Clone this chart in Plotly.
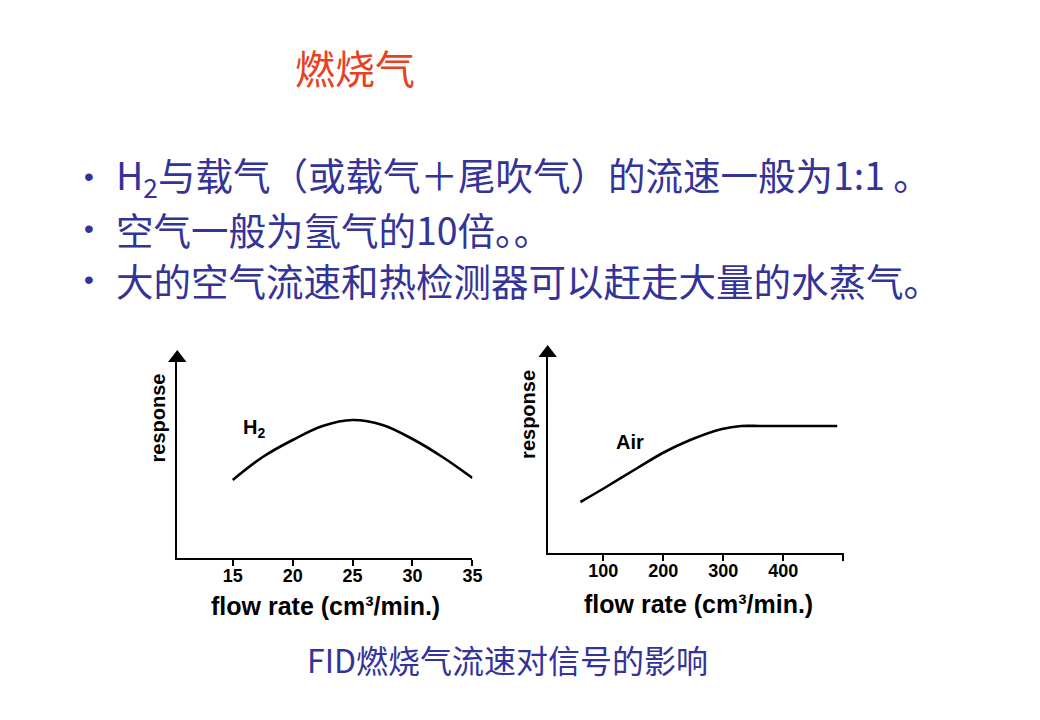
import plotly.graph_objects as go

# ---- data ----
h2_flow = [15, 17.5, 20, 22.5, 25, 27.5, 30, 32.5, 35]
h2_resp = [78, 101, 118, 132, 138, 133, 119, 101, 80]
h2_ticks = [15, 20, 25, 30, 35]
h2_ticklabels = ["15", "20", "25", "30", "35"]

air_flow = [62, 102, 157, 199, 245, 298, 330, 360, 400, 450, 490]
air_resp = [51, 65, 85, 100, 113, 124, 127, 127, 127, 127, 127]
air_ticks = [100, 200, 300, 400, 500]
air_ticklabels = ["100", "200", "300", "400", " "]

title_text = "燃烧气"
bullets = [
    "H<sub>2</sub>与载气（或载气＋尾吹气）的流速一般为1:1 。",
    "空气一般为氢气的10倍。。",
    "大的空气流速和热检测器可以赶走大量的水蒸气。",
]
caption = "FID燃烧气流速对信号的影响"
xlabel = "flow rate (cm³/min.)"
ylabel = "response"

W, H = 1040, 720
CJK = "Noto Sans CJK SC"
BLUE = "#333399"
LAT = "Liberation Sans"

h2_xrange = [10.37, 35]
h2_yrange = [0, 200]
air_xrange = [7.4, 501]
air_yrange = [0, 200]

fig = go.Figure()
fig.add_trace(go.Scatter(x=h2_flow, y=h2_resp, mode="lines",
                         line=dict(color="black", width=2.6, shape="spline", smoothing=1.0),
                         xaxis="x", yaxis="y", hoverinfo="skip"))
fig.add_trace(go.Scatter(x=air_flow, y=air_resp, mode="lines",
                         line=dict(color="black", width=2.6, shape="spline", smoothing=0.8),
                         xaxis="x2", yaxis="y2", hoverinfo="skip"))
# axis arrowheads
fig.add_trace(go.Scatter(x=[h2_xrange[0]], y=[h2_yrange[1]], mode="markers",
                         marker=dict(symbol="triangle-up", size=16, color="black"),
                         xaxis="x", yaxis="y", cliponaxis=False, hoverinfo="skip"))
fig.add_trace(go.Scatter(x=[air_xrange[0]], y=[air_yrange[1]], mode="markers",
                         marker=dict(symbol="triangle-up", size=16, color="black"),
                         xaxis="x2", yaxis="y2", cliponaxis=False, hoverinfo="skip"))

def xa(domain, rng, tv, tt):
    return dict(domain=domain, range=rng, tickvals=tv, ticktext=tt,
                showline=True, linecolor="black", linewidth=2, showgrid=False,
                zeroline=False, ticks="outside", ticklen=6, tickwidth=2, tickcolor="black",
                ticklabelstandoff=-6,
                tickfont=dict(family=LAT, size=18, color="black", weight="bold"))

def ya(domain, rng, anchor):
    return dict(domain=domain, range=rng, showline=True, linecolor="black", linewidth=2,
                showgrid=False, zeroline=False, showticklabels=False, ticks="",
                anchor=anchor)

fig.update_layout(
    width=W, height=H, margin=dict(l=0, r=0, t=0, b=0),
    paper_bgcolor="white", plot_bgcolor="white", showlegend=False,
    xaxis=dict(**xa([179 / W, 477 / W], h2_xrange, h2_ticks, h2_ticklabels), anchor="y"),
    yaxis=ya([1 - 558 / H, 1 - 358 / H], h2_yrange, "x"),
    xaxis2=dict(**xa([553 / W, 852 / W], air_xrange, air_ticks, air_ticklabels), anchor="y2"),
    yaxis2=ya([1 - 553 / H, 1 - 353 / H], air_yrange, "x2"),
)

def pa(text, x, y, font, **kw):
    d = dict(text=text, x=x / W, y=1 - y / H, xref="paper", yref="paper",
             showarrow=False, xanchor="center", yanchor="middle", font=font)
    d.update(kw)
    return d

ann = []
ann.append(pa(title_text, 358, 67, dict(family=CJK, size=40, color="#E8411F")))
for t, yy in zip(bullets, [176, 228, 280]):
    ann.append(pa("•", 90, yy, dict(family=LAT, size=28, color=BLUE)))
    ann.append(pa(t, 115, yy, dict(family=CJK, size=37.5, color=BLUE), xanchor="left"))
ann.append(pa(caption, 512, 659, dict(family=CJK, size=32, color=BLUE)))
for cx, cy in [(329, 606), (705, 604)]:
    ann.append(pa(xlabel, cx, cy, dict(family=LAT, size=25, color="black", weight="bold")))
for cx, cy in [(160, 418), (533, 414)]:
    ann.append(pa(ylabel, cx, cy, dict(family=LAT, size=20, color="black", weight="bold"),
                  textangle=-90))
# curve labels
ann.append(dict(text="H<sub>2</sub>", x=15.7, y=130,
                xref="x", yref="y", xanchor="left", yanchor="middle", showarrow=False,
                font=dict(family=LAT, size=20, color="black", weight="bold")))
ann.append(dict(text="Air", x=118, y=111, xref="x2", yref="y2", xanchor="left",
                yanchor="middle", showarrow=False,
                font=dict(family=LAT, size=20, color="black", weight="bold")))
fig.update_layout(annotations=ann)

fig.write_html("out.html")
